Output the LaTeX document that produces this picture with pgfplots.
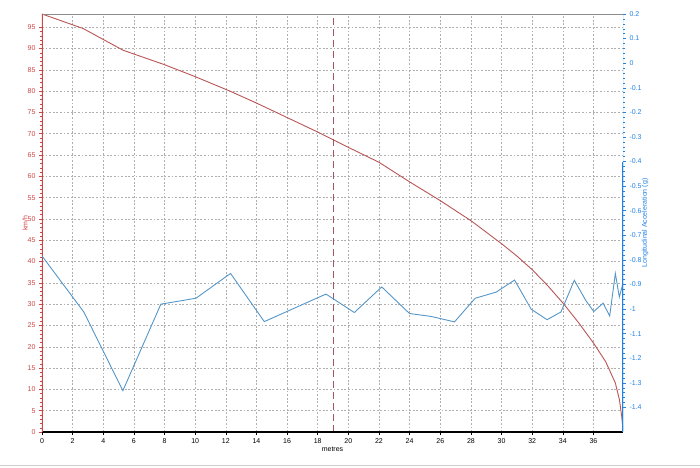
\documentclass[border=0pt]{standalone}
\usepackage{fontspec}
\setmainfont{Liberation Sans}
\usepackage{pgfplots}
\pgfplotsset{compat=1.18}
\definecolor{spd}{RGB}{185,85,85}
\definecolor{acc}{RGB}{85,150,200}
\definecolor{laxis}{RGB}{205,70,70}
\definecolor{raxis}{RGB}{35,130,225}
\definecolor{gridc}{RGB}{175,175,175}
\definecolor{mark19}{RGB}{165,85,95}
\begin{document}
\begin{tikzpicture}[font=\fontsize{7}{8}\selectfont]
\useasboundingbox (-42pt,-35pt) rectangle (658pt,432pt);
\draw[black!20, line width=0.8pt] (-42pt,-33.5pt) -- (658pt,-33.5pt);
\begin{axis}[
  at={(0,0)}, anchor=south west, scale only axis,
  width=581pt, height=418pt,
  xmin=0, xmax=37.93, ymin=0, ymax=98.1,
  axis line style={draw=none},
  xtick={0,2,...,36}, ytick={0,5,...,95},
  minor y tick num=4,
  xtick pos=bottom, ytick pos=left,
  tick align=outside,
  major tick length=3pt, minor tick length=1.5pt,
  xtick style={black, line width=0.5pt},
  ytick style={laxis, line width=0.5pt},
  minor y tick style={laxis, line width=0.4pt},
  yticklabel style={text=laxis},
  /pgf/number format/assume math mode=true,
  grid=major,
  major grid style={gridc, line width=0.55pt, dash pattern=on 1.8pt off 1.8pt},
  minor grid style={draw=none},
  xlabel={metres},
  xlabel style={at={(axis description cs:0.5,-0.0407)}, anchor=center},
  ylabel={km/h},
  ylabel style={at={(axis description cs:-0.029,0.5)}, anchor=center, text=laxis},
]
\addplot[spd, line width=0.9pt] coordinates {
(0,98.1) (2.68,94.7) (5.29,89.6) (8,86.2) (10,83.4) (12.27,80.0)
(14,77.2) (16,73.8) (18,70.4) (20,66.8) (22,63.3) (24,58.7) (26,54.3)
(28,49.6) (30,44.2) (31,41.3) (32,38.1) (33,34.4) (34,30.3)
(35,25.8) (36,20.9) (36.8,16.5) (37.43,11.5) (37.7,7.5) (37.85,3.5) (37.93,0.5)
};
\draw[mark19, line width=0.9pt, dash pattern=on 7pt off 4pt]
  (axis cs:19,0) -- (axis cs:19,98.1);
\draw[black!45, line width=0.8pt] (rel axis cs:0,1) -- (rel axis cs:1,1);
\draw[black, line width=1.5pt] (rel axis cs:0,0) -- (rel axis cs:1,0);
\draw[laxis, line width=2pt] (rel axis cs:0,0) -- (rel axis cs:0,1);
\end{axis}
\begin{axis}[
  at={(0,0)}, anchor=south west, scale only axis,
  width=581pt, height=418pt,
  xmin=0, xmax=37.93, ymin=-1.5, ymax=0.2,
  axis line style={draw=none},
  hide x axis,
  ytick={-1.4,-1.3,...,0.25},
  minor y tick num=4,
  ytick pos=right, yticklabel pos=right,
  tick align=outside,
  major tick length=3pt, minor tick length=1.5pt,
  ytick style={raxis, line width=0.5pt},
  minor y tick style={raxis, line width=0.4pt},
  yticklabel style={text=raxis, /pgf/number format/fixed, /pgf/number format/precision=1},
  /pgf/number format/assume math mode=true,
  ylabel={Longitudinal Acceleration (g)},
  ylabel style={at={(axis description cs:1.038,0.5)}, anchor=center, text=raxis, rotate=0},
]
\addplot[acc, line width=0.9pt] coordinates {
(0,-0.784) (2.73,-1.012) (5.28,-1.332) (7.76,-0.980) (10.05,-0.956)
(12.31,-0.855) (14.51,-1.051) (18.54,-0.939) (20.39,-1.014) (22.18,-0.910)
(23.99,-1.018) (25.40,-1.030) (26.93,-1.052) (28.28,-0.956) (29.65,-0.931)
(30.85,-0.882) (31.94,-1.001) (32.97,-1.043) (33.88,-1.012) (34.75,-0.883)
(35.52,-0.967) (36.02,-1.010) (36.63,-0.976) (37.06,-1.028) (37.43,-0.855)
(37.69,-0.951) (37.93,-0.895)
};
\draw[raxis, line width=0.8pt] (rel axis cs:1,0) -- (rel axis cs:1,1);
\draw[raxis, line width=2pt] (axis cs:37.93,-1.5) -- (axis cs:37.93,-0.4);
\end{axis}
\end{tikzpicture}
\end{document}
